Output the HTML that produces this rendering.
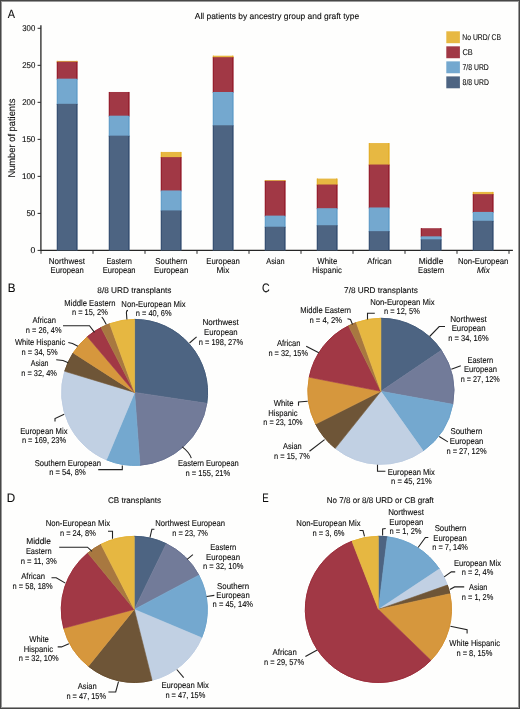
<!DOCTYPE html>
<html><head><meta charset="utf-8"><style>
html,body{margin:0;padding:0;background:#fefefd;}
svg{display:block;}
text{font-family:"Liberation Sans", sans-serif;fill:#0a0a0a;text-rendering:geometricPrecision;stroke:#0a0a0a;stroke-width:0.1px;}
svg{will-change:transform;}
</style></head><body>
<svg width="520" height="709" viewBox="0 0 520 709">
<rect x="0" y="0" width="520" height="709" fill="#fefefd"/>
<text x="7.68" y="17.80" font-size="12" textLength="7.24" lengthAdjust="spacingAndGlyphs">A</text>
<text x="194.78" y="19.00" font-size="8.6" textLength="164.39" lengthAdjust="spacingAndGlyphs">All patients by ancestry group and graft type</text>
<path d="M40.9,25.2 L40.9,250.40 L512.9,250.40" fill="none" stroke="#262626" stroke-width="1.3"/>
<path d="M37.6,250.40 L40.9,250.40" stroke="#2a2a2a" stroke-width="1"/>
<text x="30.51" y="253.20" font-size="8.4" textLength="4.83" lengthAdjust="spacingAndGlyphs">0</text>
<path d="M37.6,213.38 L40.9,213.38" stroke="#2a2a2a" stroke-width="1"/>
<text x="26.38" y="216.19" font-size="8.4" textLength="8.94" lengthAdjust="spacingAndGlyphs">50</text>
<path d="M37.6,176.37 L40.9,176.37" stroke="#2a2a2a" stroke-width="1"/>
<text x="21.94" y="179.17" font-size="8.4" textLength="13.38" lengthAdjust="spacingAndGlyphs">100</text>
<path d="M37.6,139.36 L40.9,139.36" stroke="#2a2a2a" stroke-width="1"/>
<text x="21.94" y="142.16" font-size="8.4" textLength="13.38" lengthAdjust="spacingAndGlyphs">150</text>
<path d="M37.6,102.34 L40.9,102.34" stroke="#2a2a2a" stroke-width="1"/>
<text x="22.16" y="105.14" font-size="8.4" textLength="13.16" lengthAdjust="spacingAndGlyphs">200</text>
<path d="M37.6,65.33 L40.9,65.33" stroke="#2a2a2a" stroke-width="1"/>
<text x="22.16" y="68.13" font-size="8.4" textLength="13.16" lengthAdjust="spacingAndGlyphs">250</text>
<path d="M37.6,28.31 L40.9,28.31" stroke="#2a2a2a" stroke-width="1"/>
<text x="22.25" y="31.11" font-size="8.4" textLength="13.06" lengthAdjust="spacingAndGlyphs">300</text>
<path d="M41.00,250.40 L41.00,253.80" stroke="#2a2a2a" stroke-width="1"/>
<path d="M93.00,250.40 L93.00,253.80" stroke="#2a2a2a" stroke-width="1"/>
<path d="M145.00,250.40 L145.00,253.80" stroke="#2a2a2a" stroke-width="1"/>
<path d="M197.00,250.40 L197.00,253.80" stroke="#2a2a2a" stroke-width="1"/>
<path d="M249.00,250.40 L249.00,253.80" stroke="#2a2a2a" stroke-width="1"/>
<path d="M301.00,250.40 L301.00,253.80" stroke="#2a2a2a" stroke-width="1"/>
<path d="M353.00,250.40 L353.00,253.80" stroke="#2a2a2a" stroke-width="1"/>
<path d="M405.00,250.40 L405.00,253.80" stroke="#2a2a2a" stroke-width="1"/>
<path d="M457.00,250.40 L457.00,253.80" stroke="#2a2a2a" stroke-width="1"/>
<path d="M509.00,250.40 L509.00,253.80" stroke="#2a2a2a" stroke-width="1"/>
<text transform="translate(14.7,177.6) rotate(-90)" font-size="9.9" textLength="78.9" lengthAdjust="spacingAndGlyphs">Number of patients</text>
<rect x="56.70" y="60.88" width="21.0" height="1.74" fill="#e7b842"/>
<rect x="56.70" y="61.62" width="21.0" height="18.03" fill="#a13845"/>
<rect x="56.70" y="78.65" width="21.0" height="26.17" fill="#74a8cf"/>
<rect x="56.70" y="103.82" width="21.0" height="146.58" fill="#4d6482"/>
<rect x="57" y="103.82" width="1" height="146.58" fill="#385173"/>
<rect x="76" y="103.82" width="1" height="146.58" fill="#385173"/>
<rect x="57" y="78.65" width="1" height="25.17" fill="#639ec9"/>
<rect x="76" y="78.65" width="1" height="25.17" fill="#639ec9"/>
<rect x="57" y="61.62" width="1" height="17.03" fill="#96202f"/>
<rect x="76" y="61.62" width="1" height="17.03" fill="#96202f"/>
<rect x="57" y="60.88" width="1" height="0.74" fill="#e4af2b"/>
<rect x="76" y="60.88" width="1" height="0.74" fill="#e4af2b"/>
<rect x="108.70" y="91.98" width="21.0" height="24.69" fill="#a13845"/>
<rect x="108.70" y="115.67" width="21.0" height="20.99" fill="#74a8cf"/>
<rect x="108.70" y="135.65" width="21.0" height="114.75" fill="#4d6482"/>
<rect x="109" y="135.65" width="1" height="114.75" fill="#385173"/>
<rect x="128" y="135.65" width="1" height="114.75" fill="#385173"/>
<rect x="109" y="115.67" width="1" height="19.99" fill="#639ec9"/>
<rect x="128" y="115.67" width="1" height="19.99" fill="#639ec9"/>
<rect x="109" y="91.98" width="1" height="23.69" fill="#96202f"/>
<rect x="128" y="91.98" width="1" height="23.69" fill="#96202f"/>
<rect x="160.70" y="151.94" width="21.0" height="6.18" fill="#e7b842"/>
<rect x="160.70" y="157.12" width="21.0" height="34.31" fill="#a13845"/>
<rect x="160.70" y="190.44" width="21.0" height="20.99" fill="#74a8cf"/>
<rect x="160.70" y="210.42" width="21.0" height="39.98" fill="#4d6482"/>
<rect x="161" y="210.42" width="1" height="39.98" fill="#385173"/>
<rect x="180" y="210.42" width="1" height="39.98" fill="#385173"/>
<rect x="161" y="190.44" width="1" height="19.99" fill="#639ec9"/>
<rect x="180" y="190.44" width="1" height="19.99" fill="#639ec9"/>
<rect x="161" y="157.12" width="1" height="33.31" fill="#96202f"/>
<rect x="180" y="157.12" width="1" height="33.31" fill="#96202f"/>
<rect x="161" y="151.94" width="1" height="5.18" fill="#e4af2b"/>
<rect x="180" y="151.94" width="1" height="5.18" fill="#e4af2b"/>
<rect x="212.70" y="55.70" width="21.0" height="2.48" fill="#e7b842"/>
<rect x="212.70" y="57.18" width="21.0" height="35.79" fill="#a13845"/>
<rect x="212.70" y="91.98" width="21.0" height="34.31" fill="#74a8cf"/>
<rect x="212.70" y="125.29" width="21.0" height="125.11" fill="#4d6482"/>
<rect x="213" y="125.29" width="1" height="125.11" fill="#385173"/>
<rect x="232" y="125.29" width="1" height="125.11" fill="#385173"/>
<rect x="213" y="91.98" width="1" height="33.31" fill="#639ec9"/>
<rect x="232" y="91.98" width="1" height="33.31" fill="#639ec9"/>
<rect x="213" y="57.18" width="1" height="34.79" fill="#96202f"/>
<rect x="232" y="57.18" width="1" height="34.79" fill="#96202f"/>
<rect x="213" y="55.70" width="1" height="1.48" fill="#e4af2b"/>
<rect x="232" y="55.70" width="1" height="1.48" fill="#e4af2b"/>
<rect x="264.70" y="180.07" width="21.0" height="1.74" fill="#e7b842"/>
<rect x="264.70" y="180.81" width="21.0" height="35.79" fill="#a13845"/>
<rect x="264.70" y="215.61" width="21.0" height="12.10" fill="#74a8cf"/>
<rect x="264.70" y="226.71" width="21.0" height="23.69" fill="#4d6482"/>
<rect x="265" y="226.71" width="1" height="23.69" fill="#385173"/>
<rect x="284" y="226.71" width="1" height="23.69" fill="#385173"/>
<rect x="265" y="215.61" width="1" height="11.10" fill="#639ec9"/>
<rect x="284" y="215.61" width="1" height="11.10" fill="#639ec9"/>
<rect x="265" y="180.81" width="1" height="34.79" fill="#96202f"/>
<rect x="284" y="180.81" width="1" height="34.79" fill="#96202f"/>
<rect x="265" y="180.07" width="1" height="0.74" fill="#e4af2b"/>
<rect x="284" y="180.07" width="1" height="0.74" fill="#e4af2b"/>
<rect x="316.70" y="178.59" width="21.0" height="6.92" fill="#e7b842"/>
<rect x="316.70" y="184.51" width="21.0" height="24.69" fill="#a13845"/>
<rect x="316.70" y="208.20" width="21.0" height="18.03" fill="#74a8cf"/>
<rect x="316.70" y="225.23" width="21.0" height="25.17" fill="#4d6482"/>
<rect x="317" y="225.23" width="1" height="25.17" fill="#385173"/>
<rect x="336" y="225.23" width="1" height="25.17" fill="#385173"/>
<rect x="317" y="208.20" width="1" height="17.03" fill="#639ec9"/>
<rect x="336" y="208.20" width="1" height="17.03" fill="#639ec9"/>
<rect x="317" y="184.51" width="1" height="23.69" fill="#96202f"/>
<rect x="336" y="184.51" width="1" height="23.69" fill="#96202f"/>
<rect x="317" y="178.59" width="1" height="5.92" fill="#e4af2b"/>
<rect x="336" y="178.59" width="1" height="5.92" fill="#e4af2b"/>
<rect x="368.70" y="143.06" width="21.0" height="22.47" fill="#e7b842"/>
<rect x="368.70" y="164.53" width="21.0" height="43.94" fill="#a13845"/>
<rect x="368.70" y="207.46" width="21.0" height="24.69" fill="#74a8cf"/>
<rect x="368.70" y="231.15" width="21.0" height="19.25" fill="#4d6482"/>
<rect x="369" y="231.15" width="1" height="19.25" fill="#385173"/>
<rect x="388" y="231.15" width="1" height="19.25" fill="#385173"/>
<rect x="369" y="207.46" width="1" height="23.69" fill="#639ec9"/>
<rect x="388" y="207.46" width="1" height="23.69" fill="#639ec9"/>
<rect x="369" y="164.53" width="1" height="42.94" fill="#96202f"/>
<rect x="388" y="164.53" width="1" height="42.94" fill="#96202f"/>
<rect x="369" y="143.06" width="1" height="21.47" fill="#e4af2b"/>
<rect x="388" y="143.06" width="1" height="21.47" fill="#e4af2b"/>
<rect x="420.70" y="228.19" width="21.0" height="9.14" fill="#a13845"/>
<rect x="420.70" y="236.33" width="21.0" height="3.96" fill="#74a8cf"/>
<rect x="420.70" y="239.30" width="21.0" height="11.10" fill="#4d6482"/>
<rect x="421" y="239.30" width="1" height="11.10" fill="#385173"/>
<rect x="440" y="239.30" width="1" height="11.10" fill="#385173"/>
<rect x="421" y="236.33" width="1" height="2.96" fill="#639ec9"/>
<rect x="440" y="236.33" width="1" height="2.96" fill="#639ec9"/>
<rect x="421" y="228.19" width="1" height="8.14" fill="#96202f"/>
<rect x="440" y="228.19" width="1" height="8.14" fill="#96202f"/>
<rect x="472.70" y="191.92" width="21.0" height="3.22" fill="#e7b842"/>
<rect x="472.70" y="194.14" width="21.0" height="18.77" fill="#a13845"/>
<rect x="472.70" y="211.90" width="21.0" height="9.88" fill="#74a8cf"/>
<rect x="472.70" y="220.79" width="21.0" height="29.61" fill="#4d6482"/>
<rect x="473" y="220.79" width="1" height="29.61" fill="#385173"/>
<rect x="492" y="220.79" width="1" height="29.61" fill="#385173"/>
<rect x="473" y="211.90" width="1" height="8.88" fill="#639ec9"/>
<rect x="492" y="211.90" width="1" height="8.88" fill="#639ec9"/>
<rect x="473" y="194.14" width="1" height="17.77" fill="#96202f"/>
<rect x="492" y="194.14" width="1" height="17.77" fill="#96202f"/>
<rect x="473" y="191.92" width="1" height="2.22" fill="#e4af2b"/>
<rect x="492" y="191.92" width="1" height="2.22" fill="#e4af2b"/>
<text x="48.84" y="263.50" font-size="8.5" textLength="36.11" lengthAdjust="spacingAndGlyphs">Northwest</text>
<text x="50.57" y="272.90" font-size="8.5" textLength="33.12" lengthAdjust="spacingAndGlyphs">European</text>
<text x="106.39" y="263.50" font-size="8.5" textLength="25.49" lengthAdjust="spacingAndGlyphs">Eastern</text>
<text x="102.68" y="272.90" font-size="8.5" textLength="32.92" lengthAdjust="spacingAndGlyphs">European</text>
<text x="155.30" y="263.50" font-size="8.5" textLength="31.97" lengthAdjust="spacingAndGlyphs">Southern</text>
<text x="153.95" y="272.90" font-size="8.5" textLength="34.36" lengthAdjust="spacingAndGlyphs">European</text>
<text x="206.31" y="263.50" font-size="8.5" textLength="33.64" lengthAdjust="spacingAndGlyphs">European</text>
<text x="216.47" y="272.90" font-size="8.5" textLength="12.87" lengthAdjust="spacingAndGlyphs">Mix</text>
<text x="266.24" y="263.50" font-size="8.5" textLength="18.40" lengthAdjust="spacingAndGlyphs">Asian</text>
<text x="317.37" y="263.50" font-size="8.5" textLength="19.98" lengthAdjust="spacingAndGlyphs">White</text>
<text x="312.22" y="272.90" font-size="8.5" textLength="29.53" lengthAdjust="spacingAndGlyphs">Hispanic</text>
<text x="367.28" y="263.50" font-size="8.5" textLength="24.33" lengthAdjust="spacingAndGlyphs">African</text>
<text x="418.71" y="263.50" font-size="8.5" textLength="24.65" lengthAdjust="spacingAndGlyphs">Middle</text>
<text x="418.08" y="272.90" font-size="8.5" textLength="26.12" lengthAdjust="spacingAndGlyphs">Eastern</text>
<text x="457.97" y="263.50" font-size="8.5" textLength="50.34" lengthAdjust="spacingAndGlyphs">Non-European</text>
<text x="476.42" y="272.90" font-size="8.5" textLength="12.98" lengthAdjust="spacingAndGlyphs" transform="translate(483.20,272.90) skewX(-10) translate(-483.20,-272.90)">Mix</text>
<rect x="446.3" y="31.30" width="13.6" height="11.9" fill="#e7b842"/>
<text x="462.34" y="39.60" font-size="8.4" textLength="38.62" lengthAdjust="spacingAndGlyphs">No URD/ CB</text>
<rect x="446.3" y="46.33" width="13.6" height="11.9" fill="#a13845"/>
<text x="462.52" y="54.63" font-size="8.4" textLength="10.27" lengthAdjust="spacingAndGlyphs">CB</text>
<rect x="446.3" y="61.36" width="13.6" height="11.9" fill="#74a8cf"/>
<text x="462.55" y="69.66" font-size="8.4" textLength="26.28" lengthAdjust="spacingAndGlyphs">7/8 URD</text>
<rect x="446.3" y="76.39" width="13.6" height="11.9" fill="#4d6482"/>
<text x="462.61" y="84.69" font-size="8.4" textLength="26.23" lengthAdjust="spacingAndGlyphs">8/8 URD</text>
<text x="7.84" y="291.90" font-size="12.3" textLength="7.77" lengthAdjust="spacingAndGlyphs">B</text>
<text x="97.35" y="292.50" font-size="8.2" textLength="74.15" lengthAdjust="spacingAndGlyphs">8/8 URD transplants</text>
<path d="M134.60,392.40 L134.60,319.40 A73.0,73.0 0 0 1 206.78,403.30 Z" fill="#4d6482" stroke="#4d6482" stroke-width="0.6" stroke-linejoin="round"/>
<path d="M134.60,392.40 L206.78,403.30 A73.0,73.0 0 0 1 139.99,465.20 Z" fill="#727b99" stroke="#727b99" stroke-width="0.6" stroke-linejoin="round"/>
<path d="M134.60,392.40 L139.99,465.20 A73.0,73.0 0 0 1 106.48,459.77 Z" fill="#74a8cf" stroke="#74a8cf" stroke-width="0.6" stroke-linejoin="round"/>
<path d="M134.60,392.40 L106.48,459.77 A73.0,73.0 0 0 1 64.72,371.29 Z" fill="#c1d0e3" stroke="#c1d0e3" stroke-width="0.6" stroke-linejoin="round"/>
<path d="M134.60,392.40 L64.72,371.29 A73.0,73.0 0 0 1 73.20,352.92 Z" fill="#6e5537" stroke="#6e5537" stroke-width="0.6" stroke-linejoin="round"/>
<path d="M134.60,392.40 L73.20,352.92 A73.0,73.0 0 0 1 87.35,336.75 Z" fill="#d6973d" stroke="#d6973d" stroke-width="0.6" stroke-linejoin="round"/>
<path d="M134.60,392.40 L87.35,336.75 A73.0,73.0 0 0 1 101.02,327.58 Z" fill="#a13845" stroke="#a13845" stroke-width="0.6" stroke-linejoin="round"/>
<path d="M134.60,392.40 L101.02,327.58 A73.0,73.0 0 0 1 109.73,323.77 Z" fill="#a87840" stroke="#a87840" stroke-width="0.6" stroke-linejoin="round"/>
<path d="M134.60,392.40 L109.73,323.77 A73.0,73.0 0 0 1 134.60,319.40 Z" fill="#e6b741" stroke="#e6b741" stroke-width="0.6" stroke-linejoin="round"/>
<path d="M134.60,319.40 A73.0,73.0 0 0 1 206.78,403.30" fill="none" stroke="#3f5878" stroke-width="0.9"/>
<path d="M206.78,403.30 A73.0,73.0 0 0 1 139.99,465.20" fill="none" stroke="#677091" stroke-width="0.9"/>
<path d="M139.99,465.20 A73.0,73.0 0 0 1 106.48,459.77" fill="none" stroke="#69a1cb" stroke-width="0.9"/>
<path d="M106.48,459.77 A73.0,73.0 0 0 1 64.72,371.29" fill="none" stroke="#bccce1" stroke-width="0.9"/>
<path d="M64.72,371.29 A73.0,73.0 0 0 1 73.20,352.92" fill="none" stroke="#624727" stroke-width="0.9"/>
<path d="M73.20,352.92 A73.0,73.0 0 0 1 87.35,336.75" fill="none" stroke="#d38f2d" stroke-width="0.9"/>
<path d="M87.35,336.75 A73.0,73.0 0 0 1 101.02,327.58" fill="none" stroke="#992836" stroke-width="0.9"/>
<path d="M101.02,327.58 A73.0,73.0 0 0 1 109.73,323.77" fill="none" stroke="#a16d31" stroke-width="0.9"/>
<path d="M109.73,323.77 A73.0,73.0 0 0 1 134.60,319.40" fill="none" stroke="#e4b132" stroke-width="0.9"/>
<text x="261.96" y="291.90" font-size="12.3" textLength="7.64" lengthAdjust="spacingAndGlyphs">C</text>
<text x="344.08" y="292.50" font-size="8.2" textLength="73.71" lengthAdjust="spacingAndGlyphs">7/8 URD transplants</text>
<path d="M380.90,391.30 L380.90,318.30 A73.0,73.0 0 0 1 441.34,350.36 Z" fill="#4d6482" stroke="#4d6482" stroke-width="0.6" stroke-linejoin="round"/>
<path d="M380.90,391.30 L441.34,350.36 A73.0,73.0 0 0 1 452.73,404.32 Z" fill="#727b99" stroke="#727b99" stroke-width="0.6" stroke-linejoin="round"/>
<path d="M380.90,391.30 L452.73,404.32 A73.0,73.0 0 0 1 423.13,450.85 Z" fill="#74a8cf" stroke="#74a8cf" stroke-width="0.6" stroke-linejoin="round"/>
<path d="M380.90,391.30 L423.13,450.85 A73.0,73.0 0 0 1 335.33,448.33 Z" fill="#c1d0e3" stroke="#c1d0e3" stroke-width="0.6" stroke-linejoin="round"/>
<path d="M380.90,391.30 L335.33,448.33 A73.0,73.0 0 0 1 315.69,424.11 Z" fill="#6e5537" stroke="#6e5537" stroke-width="0.6" stroke-linejoin="round"/>
<path d="M380.90,391.30 L315.69,424.11 A73.0,73.0 0 0 1 309.26,377.25 Z" fill="#d6973d" stroke="#d6973d" stroke-width="0.6" stroke-linejoin="round"/>
<path d="M380.90,391.30 L309.26,377.25 A73.0,73.0 0 0 1 348.55,325.86 Z" fill="#a13845" stroke="#a13845" stroke-width="0.6" stroke-linejoin="round"/>
<path d="M380.90,391.30 L348.55,325.86 A73.0,73.0 0 0 1 356.26,322.58 Z" fill="#a87840" stroke="#a87840" stroke-width="0.6" stroke-linejoin="round"/>
<path d="M380.90,391.30 L356.26,322.58 A73.0,73.0 0 0 1 380.90,318.30 Z" fill="#e6b741" stroke="#e6b741" stroke-width="0.6" stroke-linejoin="round"/>
<path d="M380.90,318.30 A73.0,73.0 0 0 1 441.34,350.36" fill="none" stroke="#3f5878" stroke-width="0.9"/>
<path d="M441.34,350.36 A73.0,73.0 0 0 1 452.73,404.32" fill="none" stroke="#677091" stroke-width="0.9"/>
<path d="M452.73,404.32 A73.0,73.0 0 0 1 423.13,450.85" fill="none" stroke="#69a1cb" stroke-width="0.9"/>
<path d="M423.13,450.85 A73.0,73.0 0 0 1 335.33,448.33" fill="none" stroke="#bccce1" stroke-width="0.9"/>
<path d="M335.33,448.33 A73.0,73.0 0 0 1 315.69,424.11" fill="none" stroke="#624727" stroke-width="0.9"/>
<path d="M315.69,424.11 A73.0,73.0 0 0 1 309.26,377.25" fill="none" stroke="#d38f2d" stroke-width="0.9"/>
<path d="M309.26,377.25 A73.0,73.0 0 0 1 348.55,325.86" fill="none" stroke="#992836" stroke-width="0.9"/>
<path d="M348.55,325.86 A73.0,73.0 0 0 1 356.26,322.58" fill="none" stroke="#a16d31" stroke-width="0.9"/>
<path d="M356.26,322.58 A73.0,73.0 0 0 1 380.90,318.30" fill="none" stroke="#e4b132" stroke-width="0.9"/>
<text x="6.84" y="501.90" font-size="12.3" textLength="8.42" lengthAdjust="spacingAndGlyphs">D</text>
<text x="107.89" y="503.10" font-size="8.2" textLength="53.20" lengthAdjust="spacingAndGlyphs">CB transplants</text>
<path d="M134.30,609.40 L134.30,536.35 A73.05,73.05 0 0 1 166.27,543.72 Z" fill="#4d6482" stroke="#4d6482" stroke-width="0.6" stroke-linejoin="round"/>
<path d="M134.30,609.40 L166.27,543.72 A73.05,73.05 0 0 1 198.84,575.18 Z" fill="#727b99" stroke="#727b99" stroke-width="0.6" stroke-linejoin="round"/>
<path d="M134.30,609.40 L198.84,575.18 A73.05,73.05 0 0 1 201.62,637.77 Z" fill="#74a8cf" stroke="#74a8cf" stroke-width="0.6" stroke-linejoin="round"/>
<path d="M134.30,609.40 L201.62,637.77 A73.05,73.05 0 0 1 152.10,680.25 Z" fill="#c1d0e3" stroke="#c1d0e3" stroke-width="0.6" stroke-linejoin="round"/>
<path d="M134.30,609.40 L152.10,680.25 A73.05,73.05 0 0 1 88.39,666.22 Z" fill="#6e5537" stroke="#6e5537" stroke-width="0.6" stroke-linejoin="round"/>
<path d="M134.30,609.40 L88.39,666.22 A73.05,73.05 0 0 1 63.72,628.25 Z" fill="#d6973d" stroke="#d6973d" stroke-width="0.6" stroke-linejoin="round"/>
<path d="M134.30,609.40 L63.72,628.25 A73.05,73.05 0 0 1 87.84,553.03 Z" fill="#a13845" stroke="#a13845" stroke-width="0.6" stroke-linejoin="round"/>
<path d="M134.30,609.40 L87.84,553.03 A73.05,73.05 0 0 1 101.04,544.36 Z" fill="#a87840" stroke="#a87840" stroke-width="0.6" stroke-linejoin="round"/>
<path d="M134.30,609.40 L101.04,544.36 A73.05,73.05 0 0 1 134.30,536.35 Z" fill="#e6b741" stroke="#e6b741" stroke-width="0.6" stroke-linejoin="round"/>
<path d="M134.30,536.35 A73.05,73.05 0 0 1 166.27,543.72" fill="none" stroke="#3f5878" stroke-width="0.9"/>
<path d="M166.27,543.72 A73.05,73.05 0 0 1 198.84,575.18" fill="none" stroke="#677091" stroke-width="0.9"/>
<path d="M198.84,575.18 A73.05,73.05 0 0 1 201.62,637.77" fill="none" stroke="#69a1cb" stroke-width="0.9"/>
<path d="M201.62,637.77 A73.05,73.05 0 0 1 152.10,680.25" fill="none" stroke="#bccce1" stroke-width="0.9"/>
<path d="M152.10,680.25 A73.05,73.05 0 0 1 88.39,666.22" fill="none" stroke="#624727" stroke-width="0.9"/>
<path d="M88.39,666.22 A73.05,73.05 0 0 1 63.72,628.25" fill="none" stroke="#d38f2d" stroke-width="0.9"/>
<path d="M63.72,628.25 A73.05,73.05 0 0 1 87.84,553.03" fill="none" stroke="#992836" stroke-width="0.9"/>
<path d="M87.84,553.03 A73.05,73.05 0 0 1 101.04,544.36" fill="none" stroke="#a16d31" stroke-width="0.9"/>
<path d="M101.04,544.36 A73.05,73.05 0 0 1 134.30,536.35" fill="none" stroke="#e4b132" stroke-width="0.9"/>
<text x="262.21" y="501.90" font-size="12.3" textLength="6.40" lengthAdjust="spacingAndGlyphs">E</text>
<text x="326.84" y="503.00" font-size="8.2" textLength="107.01" lengthAdjust="spacingAndGlyphs">No 7/8 or 8/8 URD or CB graft</text>
<path d="M378.40,609.40 L378.40,536.30 A73.1,73.1 0 0 1 387.38,536.85 Z" fill="#4d6482" stroke="#4d6482" stroke-width="0.6" stroke-linejoin="round"/>
<path d="M378.40,609.40 L387.38,536.85 A73.1,73.1 0 0 1 439.34,569.02 Z" fill="#74a8cf" stroke="#74a8cf" stroke-width="0.6" stroke-linejoin="round"/>
<path d="M378.40,609.40 L439.34,569.02 A73.1,73.1 0 0 1 447.34,585.10 Z" fill="#c1d0e3" stroke="#c1d0e3" stroke-width="0.6" stroke-linejoin="round"/>
<path d="M378.40,609.40 L447.34,585.10 A73.1,73.1 0 0 1 449.81,593.76 Z" fill="#6e5537" stroke="#6e5537" stroke-width="0.6" stroke-linejoin="round"/>
<path d="M378.40,609.40 L449.81,593.76 A73.1,73.1 0 0 1 430.88,660.29 Z" fill="#d6973d" stroke="#d6973d" stroke-width="0.6" stroke-linejoin="round"/>
<path d="M378.40,609.40 L430.88,660.29 A73.1,73.1 0 1 1 351.99,541.24 Z" fill="#a13845" stroke="#a13845" stroke-width="0.6" stroke-linejoin="round"/>
<path d="M378.40,609.40 L351.99,541.24 A73.1,73.1 0 0 1 378.40,536.30 Z" fill="#e6b741" stroke="#e6b741" stroke-width="0.6" stroke-linejoin="round"/>
<path d="M378.40,536.30 A73.1,73.1 0 0 1 387.38,536.85" fill="none" stroke="#3f5878" stroke-width="0.9"/>
<path d="M387.38,536.85 A73.1,73.1 0 0 1 439.34,569.02" fill="none" stroke="#69a1cb" stroke-width="0.9"/>
<path d="M439.34,569.02 A73.1,73.1 0 0 1 447.34,585.10" fill="none" stroke="#bccce1" stroke-width="0.9"/>
<path d="M447.34,585.10 A73.1,73.1 0 0 1 449.81,593.76" fill="none" stroke="#624727" stroke-width="0.9"/>
<path d="M449.81,593.76 A73.1,73.1 0 0 1 430.88,660.29" fill="none" stroke="#d38f2d" stroke-width="0.9"/>
<path d="M430.88,660.29 A73.1,73.1 0 1 1 351.99,541.24" fill="none" stroke="#992836" stroke-width="0.9"/>
<path d="M351.99,541.24 A73.1,73.1 0 0 1 378.40,536.30" fill="none" stroke="#e4b132" stroke-width="0.9"/>
<text x="64.37" y="305.50" font-size="8.5" textLength="51.13" lengthAdjust="spacingAndGlyphs">Middle Eastern</text>
<text x="72.01" y="315.00" font-size="8.5" textLength="35.75" lengthAdjust="spacingAndGlyphs">n = 15, 2%</text>
<text x="121.37" y="307.00" font-size="8.5" textLength="64.22" lengthAdjust="spacingAndGlyphs">Non-European Mix</text>
<text x="135.81" y="316.30" font-size="8.5" textLength="35.75" lengthAdjust="spacingAndGlyphs">n = 40, 6%</text>
<text x="202.44" y="325.40" font-size="8.5" textLength="36.42" lengthAdjust="spacingAndGlyphs">Northwest</text>
<text x="203.96" y="335.10" font-size="8.5" textLength="33.74" lengthAdjust="spacingAndGlyphs">European</text>
<text x="198.71" y="344.60" font-size="8.5" textLength="44.36" lengthAdjust="spacingAndGlyphs">n = 198, 27%</text>
<text x="32.48" y="323.00" font-size="8.5" textLength="23.51" lengthAdjust="spacingAndGlyphs">African</text>
<text x="25.81" y="333.00" font-size="8.5" textLength="35.75" lengthAdjust="spacingAndGlyphs">n = 26, 4%</text>
<text x="14.97" y="345.00" font-size="8.5" textLength="50.23" lengthAdjust="spacingAndGlyphs">White Hispanic</text>
<text x="21.61" y="354.60" font-size="8.5" textLength="35.96" lengthAdjust="spacingAndGlyphs">n = 34, 5%</text>
<text x="30.79" y="366.00" font-size="8.5" textLength="17.78" lengthAdjust="spacingAndGlyphs">Asian</text>
<text x="21.21" y="375.60" font-size="8.5" textLength="35.75" lengthAdjust="spacingAndGlyphs">n = 32, 4%</text>
<text x="20.17" y="433.60" font-size="8.5" textLength="47.31" lengthAdjust="spacingAndGlyphs">European Mix</text>
<text x="21.91" y="443.00" font-size="8.5" textLength="44.16" lengthAdjust="spacingAndGlyphs">n = 169, 23%</text>
<text x="34.76" y="465.80" font-size="8.5" textLength="66.24" lengthAdjust="spacingAndGlyphs">Southern European</text>
<text x="49.20" y="474.80" font-size="8.5" textLength="36.57" lengthAdjust="spacingAndGlyphs">n = 54, 8%</text>
<text x="177.98" y="466.20" font-size="8.5" textLength="60.81" lengthAdjust="spacingAndGlyphs">Eastern European</text>
<text x="185.50" y="475.50" font-size="8.5" textLength="44.77" lengthAdjust="spacingAndGlyphs">n = 155, 21%</text>
<text x="300.18" y="313.30" font-size="8.5" textLength="50.82" lengthAdjust="spacingAndGlyphs">Middle Eastern</text>
<text x="309.49" y="322.50" font-size="8.5" textLength="32.57" lengthAdjust="spacingAndGlyphs">n = 4, 2%</text>
<text x="370.17" y="305.00" font-size="8.5" textLength="64.42" lengthAdjust="spacingAndGlyphs">Non-European Mix</text>
<text x="384.01" y="313.80" font-size="8.5" textLength="35.75" lengthAdjust="spacingAndGlyphs">n = 12, 5%</text>
<text x="450.13" y="321.50" font-size="8.5" textLength="36.62" lengthAdjust="spacingAndGlyphs">Northwest</text>
<text x="451.66" y="331.30" font-size="8.5" textLength="33.85" lengthAdjust="spacingAndGlyphs">European</text>
<text x="448.30" y="341.00" font-size="8.5" textLength="40.26" lengthAdjust="spacingAndGlyphs">n = 34, 16%</text>
<text x="467.49" y="362.50" font-size="8.5" textLength="25.70" lengthAdjust="spacingAndGlyphs">Eastern</text>
<text x="463.98" y="372.10" font-size="8.5" textLength="33.02" lengthAdjust="spacingAndGlyphs">European</text>
<text x="460.82" y="382.10" font-size="8.5" textLength="38.83" lengthAdjust="spacingAndGlyphs">n = 27, 12%</text>
<text x="450.45" y="434.20" font-size="8.5" textLength="31.97" lengthAdjust="spacingAndGlyphs">Southern</text>
<text x="449.76" y="443.80" font-size="8.5" textLength="33.64" lengthAdjust="spacingAndGlyphs">European</text>
<text x="446.41" y="453.50" font-size="8.5" textLength="40.16" lengthAdjust="spacingAndGlyphs">n = 27, 12%</text>
<text x="387.77" y="474.50" font-size="8.5" textLength="47.11" lengthAdjust="spacingAndGlyphs">European Mix</text>
<text x="391.10" y="483.70" font-size="8.5" textLength="40.67" lengthAdjust="spacingAndGlyphs">n = 45, 21%</text>
<text x="276.88" y="346.20" font-size="8.5" textLength="23.61" lengthAdjust="spacingAndGlyphs">African</text>
<text x="268.41" y="355.80" font-size="8.5" textLength="39.55" lengthAdjust="spacingAndGlyphs">n = 32, 15%</text>
<text x="273.77" y="405.80" font-size="8.5" textLength="19.67" lengthAdjust="spacingAndGlyphs">White</text>
<text x="268.27" y="415.80" font-size="8.5" textLength="29.33" lengthAdjust="spacingAndGlyphs">Hispanic</text>
<text x="263.32" y="425.30" font-size="8.5" textLength="39.24" lengthAdjust="spacingAndGlyphs">n = 23, 10%</text>
<text x="283.09" y="449.20" font-size="8.5" textLength="18.60" lengthAdjust="spacingAndGlyphs">Asian</text>
<text x="274.11" y="458.80" font-size="8.5" textLength="35.65" lengthAdjust="spacingAndGlyphs">n = 15, 7%</text>
<text x="45.67" y="526.30" font-size="8.5" textLength="64.42" lengthAdjust="spacingAndGlyphs">Non-European Mix</text>
<text x="60.01" y="535.80" font-size="8.5" textLength="35.75" lengthAdjust="spacingAndGlyphs">n = 24, 8%</text>
<text x="26.21" y="544.20" font-size="8.5" textLength="24.65" lengthAdjust="spacingAndGlyphs">Middle</text>
<text x="25.89" y="554.20" font-size="8.5" textLength="25.70" lengthAdjust="spacingAndGlyphs">Eastern</text>
<text x="20.70" y="563.50" font-size="8.5" textLength="36.17" lengthAdjust="spacingAndGlyphs">n = 11, 3%</text>
<text x="21.18" y="578.50" font-size="8.5" textLength="23.92" lengthAdjust="spacingAndGlyphs">African</text>
<text x="12.61" y="588.50" font-size="8.5" textLength="39.95" lengthAdjust="spacingAndGlyphs">n = 58, 18%</text>
<text x="29.17" y="642.30" font-size="8.5" textLength="19.67" lengthAdjust="spacingAndGlyphs">White</text>
<text x="23.67" y="651.80" font-size="8.5" textLength="29.33" lengthAdjust="spacingAndGlyphs">Hispanic</text>
<text x="18.71" y="661.20" font-size="8.5" textLength="40.06" lengthAdjust="spacingAndGlyphs">n = 32, 10%</text>
<text x="77.78" y="689.40" font-size="8.5" textLength="19.01" lengthAdjust="spacingAndGlyphs">Asian</text>
<text x="66.41" y="699.40" font-size="8.5" textLength="39.65" lengthAdjust="spacingAndGlyphs">n = 47, 15%</text>
<text x="161.47" y="688.00" font-size="8.5" textLength="47.41" lengthAdjust="spacingAndGlyphs">European Mix</text>
<text x="165.41" y="697.70" font-size="8.5" textLength="39.85" lengthAdjust="spacingAndGlyphs">n = 47, 15%</text>
<text x="155.17" y="525.80" font-size="8.5" textLength="69.93" lengthAdjust="spacingAndGlyphs">Northwest European</text>
<text x="172.21" y="535.80" font-size="8.5" textLength="35.75" lengthAdjust="spacingAndGlyphs">n = 23, 7%</text>
<text x="210.18" y="550.00" font-size="8.5" textLength="26.12" lengthAdjust="spacingAndGlyphs">Eastern</text>
<text x="205.96" y="559.50" font-size="8.5" textLength="34.05" lengthAdjust="spacingAndGlyphs">European</text>
<text x="203.00" y="569.20" font-size="8.5" textLength="40.36" lengthAdjust="spacingAndGlyphs">n = 32, 10%</text>
<text x="217.05" y="588.50" font-size="8.5" textLength="31.97" lengthAdjust="spacingAndGlyphs">Southern</text>
<text x="216.27" y="598.00" font-size="8.5" textLength="33.43" lengthAdjust="spacingAndGlyphs">European</text>
<text x="212.60" y="606.90" font-size="8.5" textLength="40.46" lengthAdjust="spacingAndGlyphs">n = 45, 14%</text>
<text x="296.37" y="525.80" font-size="8.5" textLength="64.22" lengthAdjust="spacingAndGlyphs">Non-European Mix</text>
<text x="312.50" y="536.30" font-size="8.5" textLength="32.06" lengthAdjust="spacingAndGlyphs">n = 3, 6%</text>
<text x="388.15" y="515.00" font-size="8.5" textLength="35.70" lengthAdjust="spacingAndGlyphs">Northwest</text>
<text x="389.35" y="524.50" font-size="8.5" textLength="34.16" lengthAdjust="spacingAndGlyphs">European</text>
<text x="389.50" y="534.30" font-size="8.5" textLength="32.06" lengthAdjust="spacingAndGlyphs">n = 1, 2%</text>
<text x="434.65" y="530.80" font-size="8.5" textLength="31.66" lengthAdjust="spacingAndGlyphs">Southern</text>
<text x="433.37" y="540.80" font-size="8.5" textLength="33.43" lengthAdjust="spacingAndGlyphs">European</text>
<text x="432.21" y="550.00" font-size="8.5" textLength="35.75" lengthAdjust="spacingAndGlyphs">n = 7, 14%</text>
<text x="453.97" y="565.80" font-size="8.5" textLength="47.11" lengthAdjust="spacingAndGlyphs">European Mix</text>
<text x="461.81" y="575.40" font-size="8.5" textLength="31.55" lengthAdjust="spacingAndGlyphs">n = 2, 4%</text>
<text x="468.99" y="590.20" font-size="8.5" textLength="18.40" lengthAdjust="spacingAndGlyphs">Asian</text>
<text x="461.81" y="599.80" font-size="8.5" textLength="31.55" lengthAdjust="spacingAndGlyphs">n = 1, 2%</text>
<text x="449.37" y="646.00" font-size="8.5" textLength="50.63" lengthAdjust="spacingAndGlyphs">White Hispanic</text>
<text x="456.41" y="655.60" font-size="8.5" textLength="35.96" lengthAdjust="spacingAndGlyphs">n = 8, 15%</text>
<text x="272.58" y="654.90" font-size="8.5" textLength="24.12" lengthAdjust="spacingAndGlyphs">African</text>
<text x="264.11" y="664.60" font-size="8.5" textLength="39.95" lengthAdjust="spacingAndGlyphs">n = 29, 57%</text>
<path d="M101.80,317.20 L103.30,319.00 L106.30,324.60" fill="none" stroke="#222222" stroke-width="1.1"/>
<path d="M128.0,310.4 Q126.2,310.6 126.4,312.6 L126.9,319.5" fill="none" stroke="#222222" stroke-width="1.1"/>
<path d="M196.60,336.90 L189.50,343.00" fill="none" stroke="#222222" stroke-width="1.1"/>
<path d="M63.00,325.70 L89.50,325.70 L94.50,332.30" fill="none" stroke="#222222" stroke-width="1.1"/>
<path d="M68.30,342.50 L72.50,343.50 L77.90,346.30" fill="none" stroke="#222222" stroke-width="1.1"/>
<path d="M56.20,359.80 L63.00,360.50 L68.30,362.70" fill="none" stroke="#222222" stroke-width="1.1"/>
<path d="M55.00,421.50 L55.00,418.50 L64.20,414.20" fill="none" stroke="#222222" stroke-width="1.1"/>
<path d="M98.20,469.60 L122.30,469.60 L122.30,465.40" fill="none" stroke="#222222" stroke-width="1.1"/>
<path d="M182.3,446.9 Q189.5,452.5 191.3,458.2" fill="none" stroke="#222222" stroke-width="1.1"/>
<path d="M347.50,318.80 L350.50,319.50 L352.50,324.50" fill="none" stroke="#222222" stroke-width="1.1"/>
<path d="M367.50,319.50 L367.50,313.30 L374.80,313.30" fill="none" stroke="#222222" stroke-width="1.1"/>
<path d="M445.00,326.50 L439.20,326.50 L429.60,336.50" fill="none" stroke="#222222" stroke-width="1.1"/>
<path d="M460.80,365.80 L451.30,369.20" fill="none" stroke="#222222" stroke-width="1.1"/>
<path d="M439.20,436.50 L447.90,441.90" fill="none" stroke="#222222" stroke-width="1.1"/>
<path d="M377.50,464.80 L377.50,471.20 L385.40,471.20" fill="none" stroke="#222222" stroke-width="1.1"/>
<path d="M306.20,346.20 L318.80,352.80" fill="none" stroke="#222222" stroke-width="1.1"/>
<path d="M298.50,405.80 L298.50,401.90 L307.70,401.20" fill="none" stroke="#222222" stroke-width="1.1"/>
<path d="M309.50,451.20 L324.60,439.60" fill="none" stroke="#222222" stroke-width="1.1"/>
<path d="M108.00,531.30 L112.50,531.30 L112.50,538.80" fill="none" stroke="#222222" stroke-width="1.1"/>
<path d="M59.20,547.20 L87.50,547.20 L92.00,551.30" fill="none" stroke="#222222" stroke-width="1.1"/>
<path d="M51.50,577.70 L56.20,577.70 L65.40,583.10" fill="none" stroke="#222222" stroke-width="1.1"/>
<path d="M57.70,646.90 L61.50,646.90 L68.90,643.80" fill="none" stroke="#222222" stroke-width="1.1"/>
<path d="M108.40,692.00 L115.70,692.00 L118.50,681.60" fill="none" stroke="#222222" stroke-width="1.1"/>
<path d="M176.80,669.50 L183.70,677.60" fill="none" stroke="#222222" stroke-width="1.1"/>
<path d="M154.40,529.20 L151.90,529.20 L150.00,537.30" fill="none" stroke="#222222" stroke-width="1.1"/>
<path d="M192.90,554.60 L187.10,559.40" fill="none" stroke="#222222" stroke-width="1.1"/>
<path d="M206.60,596.50 L214.30,595.40" fill="none" stroke="#222222" stroke-width="1.1"/>
<path d="M359.50,530.50 L363.00,530.50 L364.50,536.30" fill="none" stroke="#222222" stroke-width="1.1"/>
<path d="M385.70,528.50 L382.60,529.00 L382.60,535.60" fill="none" stroke="#222222" stroke-width="1.1"/>
<path d="M428.30,537.50 L425.40,537.50 L418.10,547.50" fill="none" stroke="#222222" stroke-width="1.1"/>
<path d="M455.20,571.90 L451.30,571.90 L444.20,576.90" fill="none" stroke="#222222" stroke-width="1.1"/>
<path d="M464.20,586.90 L454.60,586.90 L449.80,589.60" fill="none" stroke="#222222" stroke-width="1.1"/>
<path d="M450.40,626.20 L467.10,629.60 L467.10,633.50" fill="none" stroke="#222222" stroke-width="1.1"/>
<path d="M305.40,656.50 L317.20,650.00" fill="none" stroke="#222222" stroke-width="1.1"/>
<rect x="0.5" y="0.5" width="519" height="708" fill="none" stroke="#474747" stroke-width="1"/>
<rect x="1.5" y="1.5" width="517" height="706" fill="none" stroke="#9a9a9a" stroke-width="1"/>
</svg>
</body></html>
